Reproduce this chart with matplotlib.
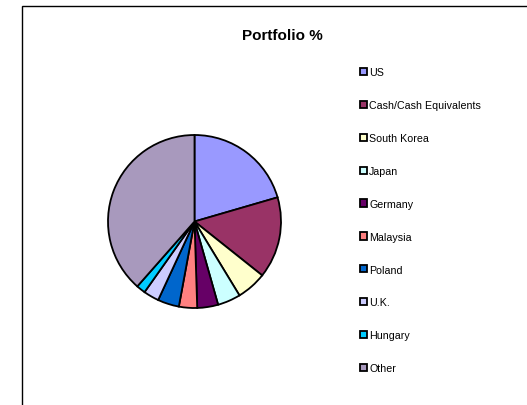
import matplotlib.pyplot as plt
from matplotlib.patches import Rectangle

plt.rcParams['font.family'] = ['Liberation Sans', 'DejaVu Sans']

labels = ['US', 'Cash/Cash Equivalents', 'South Korea', 'Japan', 'Germany',
          'Malaysia', 'Poland', 'U.K.', 'Hungary', 'Other']
shares = [20.5, 15.2, 5.6, 4.3, 3.9, 3.4, 4.0, 2.9, 1.7, 38.5]
colors = ['#9999FF', '#993366', '#FFFFCC', '#CCFFFF', '#660066',
          '#FF8080', '#0066CC', '#CCCCFF', '#00CCFF', '#A899BD']

W, H = 527, 406
fig = plt.figure(figsize=(W / 100, H / 100), dpi=100)

# chart border (runs off the right/bottom edge like the original)
fig.patches.append(Rectangle((22 / W, -0.1), 1.2, 1.1 - 6.5 / H, transform=fig.transFigure,
                             fill=False, edgecolor='black', linewidth=1.0))

# pie: centre (194, 222) px, radius 86 px
cx, cy, r = 194.5, 222.5, 86.5
ax = fig.add_axes([(cx - r) / W, (H - cy - r) / H, 2 * r / W, 2 * r / H])
wedges, _ = ax.pie(shares, colors=colors, startangle=90, counterclock=False,
                   wedgeprops=dict(edgecolor='black', linewidth=1.3, clip_on=False))
ax.set_xlim(-1, 1)
ax.set_ylim(-1, 1)
ax.set_aspect('equal')
ax.axis('off')

fig.text(282 / W, 1 - 36 / H, 'Portfolio %', ha='center', va='center',
         fontsize=11, fontweight='bold')

leg = fig.legend(wedges, labels, loc='upper left', bbox_to_anchor=(356 / W, 1 - 64 / H),
                 frameon=False, fontsize=7.7, handlelength=0.65, handleheight=0.65,
                 handletextpad=0.2, labelspacing=2.14, borderaxespad=0)

fig.savefig('out.png', dpi=100)
